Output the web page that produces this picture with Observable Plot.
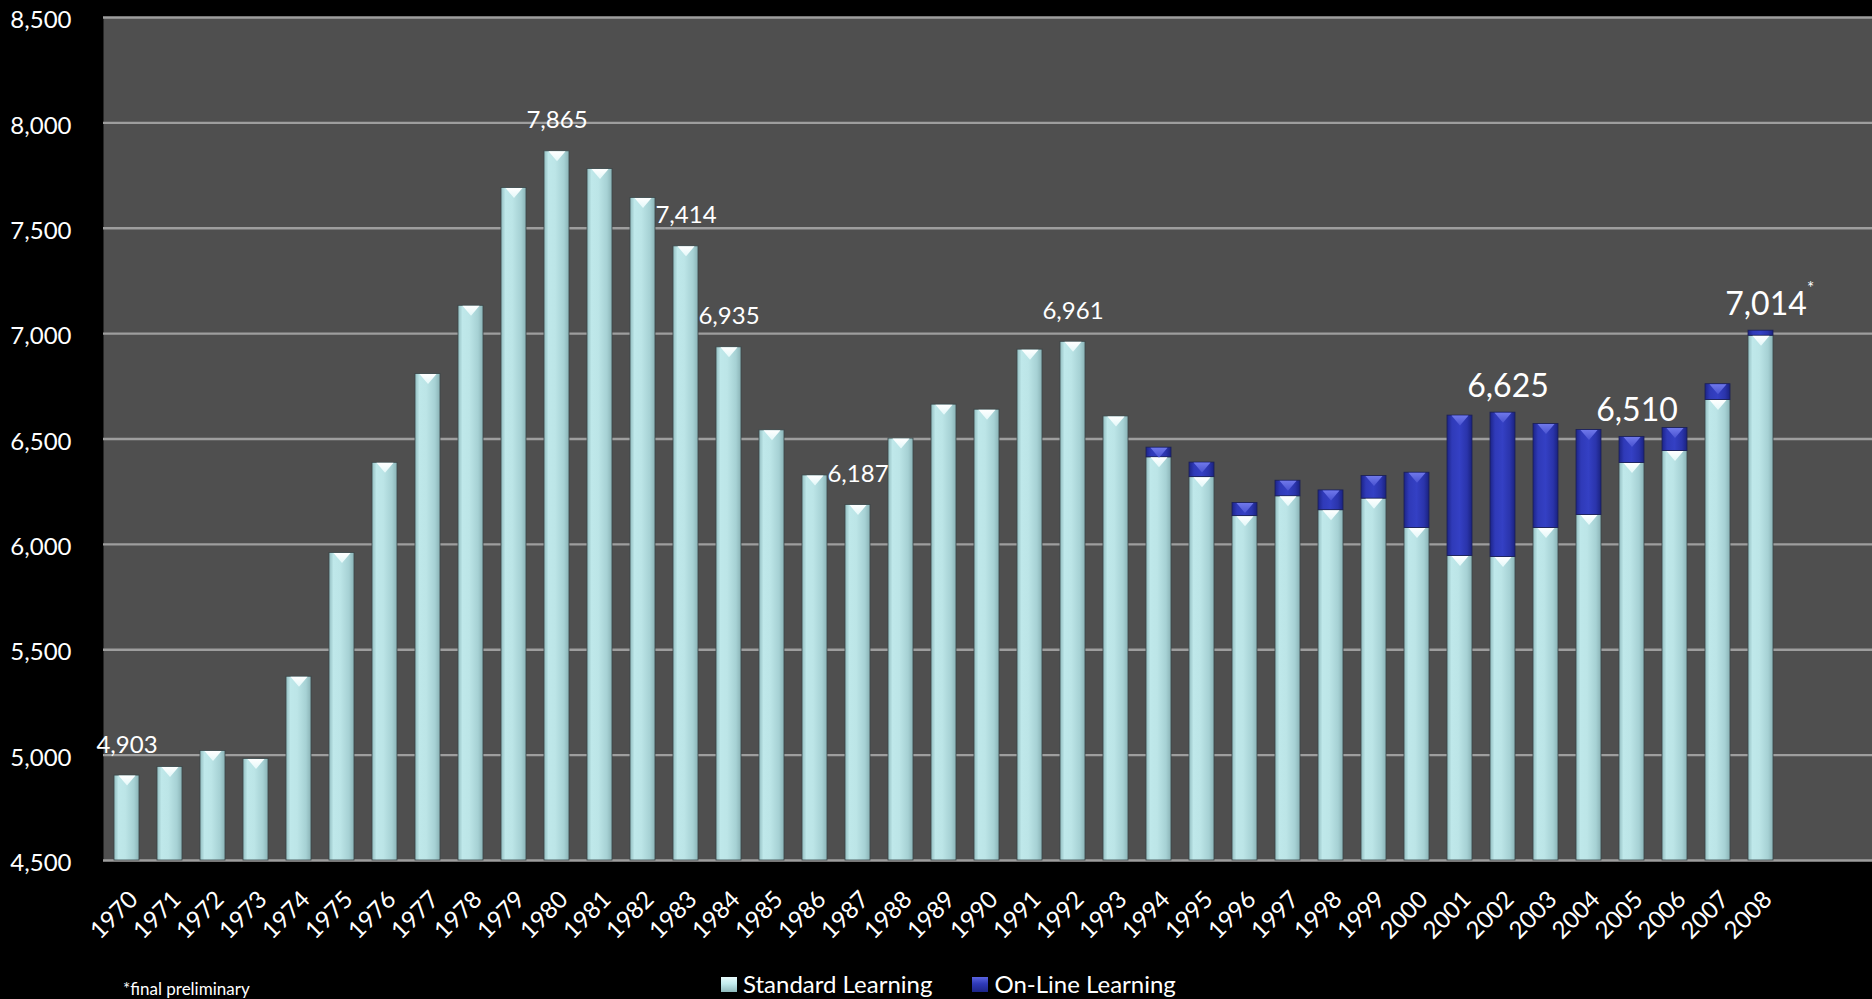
<!DOCTYPE html>
<html>
<head>
<meta charset="utf-8">
<script src="https://cdn.jsdelivr.net/npm/d3@7"></script>
<script src="https://cdn.jsdelivr.net/npm/@observablehq/plot@0.6"></script>
<style>
  html, body { margin: 0; padding: 0; background: #000; }
  body { width: 1872px; height: 999px; overflow: hidden; font-family: Lato, "Open Sans", sans-serif; }
  #wrap { position: relative; width: 1872px; height: 999px; }
  #chart { position: absolute; left: 0; top: 0; }
  #foot { position: absolute; left: 123px; top: 980px; font-size: 17px; line-height: 17px; color: #fff; white-space: nowrap; }
  #legend { position: absolute; left: 721px; top: 972px; font-size: 24px; line-height: 24px; color: #fff; display: flex; align-items: center; white-space: nowrap; }
  .sw { display: inline-block; width: 16px; height: 15px; margin-right: 6px; }
  .sw.std { background: linear-gradient(to bottom, #e8fbfc 0%, #c3ecee 45%, #8fb9bc 100%); }
  .sw.on { background: linear-gradient(to bottom, #5a64e0 0%, #2f3ab8 45%, #1c2488 100%); margin-left: 40px; }
</style>
</head>
<body>
<div id="wrap">
  <div id="chart"></div>
  <div id="foot">*final preliminary</div>
  <div id="legend"><span class="sw std"></span><span>Standard Learning</span><span class="sw on"></span><span>On-Line Learning</span></div>
</div>
<script>
// ---- data ----
const years = ["1970","1971","1972","1973","1974","1975","1976","1977","1978","1979",
               "1980","1981","1982","1983","1984","1985","1986","1987","1988","1989",
               "1990","1991","1992","1993","1994","1995","1996","1997","1998","1999",
               "2000","2001","2002","2003","2004","2005","2006","2007","2008"];
const standard = [4903,4944,5020,4982,5372,5959,6387,6808,7132,7691,
                  7865,7781,7644,7414,6935,6541,6327,6187,6502,6663,
                  6639,6924,6961,6607,6413,6319,6134,6228,6162,6217,
                  6078,5945,5940,6078,6139,6386,6443,6685,6990];
const online   = [0,0,0,0,0,0,0,0,0,0,
                  0,0,0,0,0,0,0,0,0,0,
                  0,0,0,0,46,69,62,74,94,107,
                  262,666,685,493,404,124,109,75,24];
const seriesNames = ["Standard Learning", "On-Line Learning"];
const labelYears  = ["1970","1980","1983","1984","1987","1992","2002","2005","2008"];
const labelTexts  = ["4,903","7,865","7,414","6,935","6,187","6,961","6,625","6,510","7,014"];
const labelLarge  = [false,false,false,false,false,false,true,true,true];
const starYear = "2008";
const yTicks = [4500,5000,5500,6000,6500,7000,7500,8000,8500];
const yDomain = [4500, 8500];
const footnote = "*final preliminary";

// ---- build tables ----
const rows = years.map((y, i) => ({year: y, std: standard[i], on: online[i], total: standard[i] + online[i]}));
const totalOf = y => rows.find(r => r.year === y).total;
const labels = labelYears.map((y, i) => ({year: y, text: labelTexts[i], large: labelLarge[i], total: totalOf(y)}));

// flat downward-pointing bevel triangle
const bevel = { draw(ctx) { ctx.moveTo(-8.5, 0); ctx.lineTo(8.5, 0); ctx.lineTo(0, 10); ctx.closePath(); } };

const chart = Plot.plot({
  width: 1872,
  height: 960,
  marginTop: 17,
  marginBottom: 100,
  marginLeft: 103,
  marginRight: 0,
  style: {background: "black", color: "white", fontFamily: "Lato, 'Open Sans', sans-serif"},
  x: {type: "band", domain: years, range: [103, 1783.5], paddingInner: 0.41, paddingOuter: 0.168, label: null},
  y: {domain: yDomain, label: null},
  marks: [
    Plot.frame({fill: "#4f4f4f", stroke: "none"}),
    Plot.ruleY(yTicks, {stroke: "#9e9e9e", strokeWidth: 2.3}),
    Plot.barY(rows, {x: "year", y1: yDomain[0], y2: "std", fill: "url(#gStd)", stroke: "#3a4446", strokeWidth: 0.8}),
    Plot.barY(rows.filter(r => r.on > 0), {x: "year", y1: "std", y2: "total", fill: "url(#gOn)", stroke: "#1a1f55", strokeWidth: 0.8}),
    Plot.dot(rows, {x: "year", y: "std", symbol: bevel, fill: "url(#gTri)", stroke: "none"}),
    Plot.dot(rows.filter(r => r.on > 40), {x: "year", y: "total", symbol: bevel, fill: "url(#gTriOn)", stroke: "none"}),
    Plot.axisY({ticks: yTicks, tickFormat: d3.format(","), tickSize: 0, tickPadding: 32, fontSize: 24, dy: 3}),
    Plot.axisX({tickRotate: -45, tickSize: 0, tickPadding: 35, fontSize: 24, dx: 7}),
    Plot.text(labels.filter(d => !d.large), {x: "year", y: "total", text: "text", fontSize: 24, lineAnchor: "bottom", dy: -23, fill: "white"}),
    Plot.text(labels.filter(d => d.large), {x: "year", y: "total", text: "text", fontSize: 32, lineAnchor: "bottom", dy: -16, dx: 5, fill: "white"}),
    Plot.text(labels.filter(d => d.year === starYear), {x: "year", y: "total", text: () => "*", fontSize: 17, textAnchor: "start", lineAnchor: "bottom", dx: 46, dy: -37, fill: "white"})
  ]
});

const defs = document.createElementNS("http://www.w3.org/2000/svg", "defs");
defs.innerHTML = `
  <linearGradient id="gStd" x1="0" x2="1" y1="0" y2="0">
    <stop offset="0" stop-color="#92bdc0"/>
    <stop offset="0.18" stop-color="#bfe8ea"/>
    <stop offset="0.45" stop-color="#bce5e7"/>
    <stop offset="0.8" stop-color="#a6d1d4"/>
    <stop offset="1" stop-color="#8ab3b6"/>
  </linearGradient>
  <linearGradient id="gOn" x1="0" x2="1" y1="0" y2="0">
    <stop offset="0" stop-color="#1c2488"/>
    <stop offset="0.2" stop-color="#2f3ab8"/>
    <stop offset="0.5" stop-color="#3440c4"/>
    <stop offset="0.8" stop-color="#2a34ab"/>
    <stop offset="1" stop-color="#1a2280"/>
  </linearGradient>
  <linearGradient id="gTri" x1="0" x2="0" y1="0" y2="1">
    <stop offset="0" stop-color="#ffffff"/>
    <stop offset="1" stop-color="#e4f8f9"/>
  </linearGradient>
  <linearGradient id="gTriOn" x1="0" x2="0" y1="0" y2="1">
    <stop offset="0" stop-color="#6f78ea"/>
    <stop offset="1" stop-color="#4a54d2"/>
  </linearGradient>`;
chart.insertBefore(defs, chart.firstChild);
document.getElementById("chart").appendChild(chart);
</script>
</body>
</html>
